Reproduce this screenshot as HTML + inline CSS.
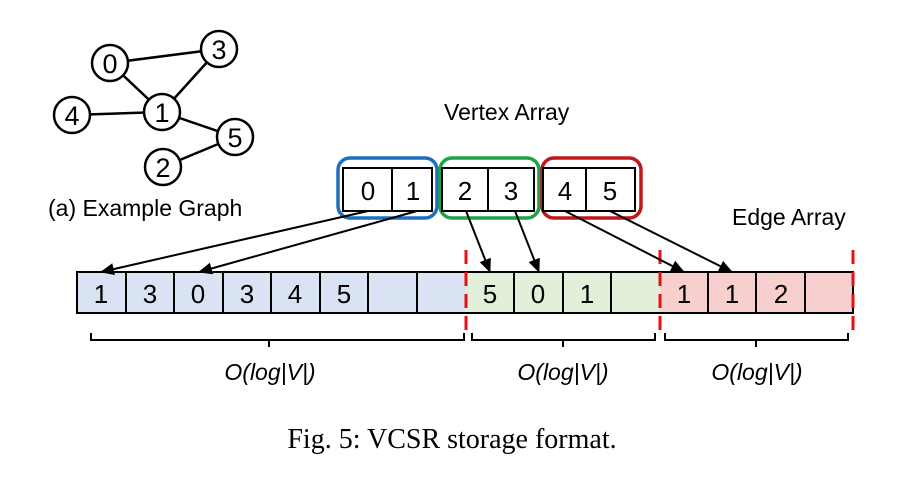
<!DOCTYPE html>
<html><head><style>body{margin:0;background:#fff}</style></head><body>
<svg width="905" height="472" xmlns="http://www.w3.org/2000/svg" font-family="Liberation Sans, sans-serif">
<defs><marker id="a" markerWidth="14" markerHeight="14" refX="13" refY="6" orient="auto" markerUnits="userSpaceOnUse"><path d="M0,0 L14,6 L0,12 z" fill="#000"/></marker></defs>
<g stroke="#000" stroke-width="2.5">
<line x1="110" y1="63" x2="219" y2="49"/><line x1="110" y1="63" x2="162" y2="112"/><line x1="219" y1="49" x2="162" y2="112"/>
<line x1="72" y1="115" x2="162" y2="112"/><line x1="162" y1="112" x2="235" y2="137"/><line x1="235" y1="137" x2="163" y2="167"/>
</g>
<g stroke="#000" stroke-width="2.5" fill="#fff">
<circle cx="110" cy="63" r="18"/><circle cx="219" cy="49" r="18"/><circle cx="162" cy="112" r="18"/><circle cx="72" cy="115" r="18"/><circle cx="235" cy="137" r="18"/><circle cx="163" cy="167" r="18"/>
</g>
<g font-size="27" text-anchor="middle">
<text x="110" y="73">0</text><text x="219" y="59">3</text><text x="162" y="122">1</text><text x="72" y="125">4</text><text x="235" y="147">5</text><text x="163" y="177">2</text>
</g>
<text x="48" y="216" font-size="23">(a) Example Graph</text>
<text x="444" y="120" font-size="23">Vertex Array</text>
<text x="732" y="225" font-size="23">Edge Array</text>
<rect x="338" y="158" width="99" height="60" rx="12" fill="none" stroke="#1f6fbf" stroke-width="3.5"/>
<rect x="440" y="158" width="99" height="60" rx="12" fill="none" stroke="#1fa34a" stroke-width="3.5"/>
<rect x="542" y="158" width="99" height="60" rx="12" fill="none" stroke="#c01818" stroke-width="3.5"/>
<g stroke="#000" stroke-width="2" fill="#fff">
<rect x="343" y="168" width="89" height="43"/><line x1="392" y1="168" x2="392" y2="211"/>
<rect x="442" y="168" width="92" height="43"/><line x1="488" y1="168" x2="488" y2="211"/>
<rect x="543" y="168" width="92" height="43"/><line x1="586" y1="168" x2="586" y2="211"/>
</g>
<g font-size="26" text-anchor="middle">
<text x="368" y="200">0</text><text x="413" y="200">1</text><text x="465" y="200">2</text><text x="511" y="200">3</text><text x="565" y="200">4</text><text x="610" y="200">5</text>
</g>
<rect x="77" y="272" width="389" height="41" fill="#dae3f3"/>
<rect x="466" y="272" width="194" height="41" fill="#e2efda"/>
<rect x="660" y="272" width="193" height="41" fill="#f8cfcf"/>
<g stroke="#000" stroke-width="2" fill="none">
<rect x="77" y="272" width="776" height="41"/>
<path d="M126,272V313M174,272V313M223,272V313M271,272V313M320,272V313M368,272V313M417,272V313M514,272V313M563,272V313M611,272V313M708,272V313M756,272V313M805,272V313"/>
</g>
<g font-size="26" text-anchor="middle">
<text x="101" y="303">1</text><text x="150" y="303">3</text><text x="198" y="303">0</text><text x="247" y="303">3</text><text x="295" y="303">4</text><text x="344" y="303">5</text>
<text x="490" y="303">5</text><text x="538" y="303">0</text><text x="587" y="303">1</text>
<text x="684" y="303">1</text><text x="732" y="303">1</text><text x="781" y="303">2</text>
</g>
<g stroke="#e81010" stroke-width="3" stroke-dasharray="14,8">
<line x1="466" y1="250" x2="466" y2="332"/><line x1="660" y1="250" x2="660" y2="332"/><line x1="853" y1="250" x2="853" y2="332"/>
</g>
<g stroke="#000" stroke-width="2" marker-end="url(#a)">
<line x1="368" y1="211" x2="101" y2="272"/><line x1="417" y1="211" x2="199" y2="272"/>
<line x1="466" y1="211" x2="490" y2="272"/><line x1="515" y1="211" x2="539" y2="272"/>
<line x1="565" y1="211" x2="684" y2="272"/><line x1="610" y1="211" x2="732" y2="272"/>
</g>
<g stroke="#000" stroke-width="2" fill="none">
<path d="M91,333V340H269V347M269,340H464V333"/>
<path d="M472,333V340H563V347M563,340H655V333"/>
<path d="M665,333V340H756V347M756,340H848V333"/>
</g>
<g font-size="23" font-style="italic" text-anchor="middle">
<text x="270" y="380">O(log|V|)</text><text x="563" y="380">O(log|V|)</text><text x="757" y="380">O(log|V|)</text>
</g>
<text x="452" y="448" font-size="28" text-anchor="middle" font-family="Liberation Serif, serif">Fig. 5: VCSR storage format.</text>
</svg>
</body></html>
